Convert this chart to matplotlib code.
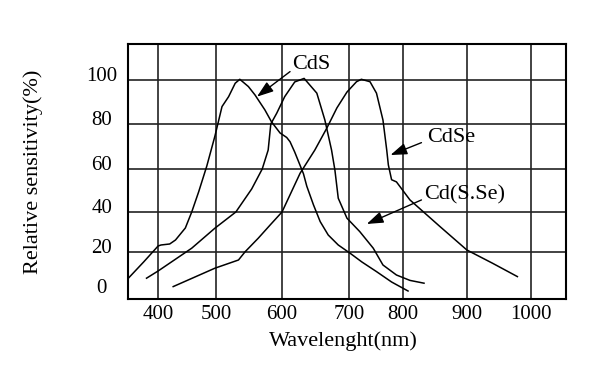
import numpy as np
import matplotlib
matplotlib.use('Agg')
import matplotlib.pyplot as plt
from matplotlib.transforms import ScaledTranslation

# wavelength (nm) / relative sensitivity (%)
cds_wl = [349, 375, 400, 405, 420, 430, 447, 458, 470, 484, 498, 509, 519, 529, 536,
          549, 559, 574, 584, 597, 607, 612, 619, 632, 637, 647, 657, 669, 684,
          702, 724, 751, 779, 808]
cds_val = [7, 15, 23, 23.5, 24, 26, 32, 40, 49.4, 61.3, 74.6, 87.9, 92.4, 98.5, 100.3,
           97, 93.2, 86.4, 81, 76, 74, 72.1, 67.5, 57.8, 52, 43.3, 35.2, 28.5, 23.5,
           19.4, 15, 10.2, 5, 0.5]

cdsse_wl = [380, 400, 458, 498, 530, 554, 570, 579, 583, 592, 604, 619, 633,
            652, 664, 674, 679, 684, 697, 720, 745, 763, 788, 811, 833]
cdsse_val = [6.9, 10.5, 21.9, 31.9, 40, 50.7, 60, 68.4, 80, 84.9, 92.4, 99.1, 100.7,
             94, 81.8, 68.4, 59.5, 46.4, 36.9, 30.2, 21.9, 13.5, 8.5, 5.8, 4.4]

cdse_wl = [426, 498, 534, 544, 564, 582, 600, 627, 649, 667, 682, 697, 714, 723,
           739, 751, 763, 770, 773, 779, 788, 811, 858, 900, 940, 979]
cdse_val = [2.7, 11.9, 16, 20.1, 26.9, 33.5, 40, 58, 68.4, 78.2, 87.3, 94.5, 99.2, 100.3,
            99.2, 94, 81.8, 68.4, 61.8, 55, 54, 45.6, 32.7, 21, 14.4, 7.7]

x_ticks = [400, 500, 600, 700, 800, 900, 1000]
y_ticks = [0, 20, 40, 60, 80, 100]

# the printed grid is hand drawn and not evenly spaced
x_break = [300, 400, 500, 600, 700, 800, 900, 1000, 1100]
x_break_pos = [-58, 0, 58, 124, 191, 245, 309, 373, 437]
y_break = [-20, 0, 20, 40, 60, 80, 100, 120]
y_break_pos = [-40, 0, 40, 80, 123, 168, 212, 256]


def xfwd(x):
    return np.interp(x, x_break, x_break_pos)


def xinv(p):
    return np.interp(p, x_break_pos, x_break)


def yfwd(y):
    return np.interp(y, y_break, y_break_pos)


def yinv(p):
    return np.interp(p, y_break_pos, y_break)


plt.rcParams['font.family'] = ['Liberation Serif', 'DejaVu Serif']

fig = plt.figure(figsize=(6.15, 3.68), dpi=100)
ax = fig.add_axes([0.2081, 0.1875, 0.7122, 0.6921])
ax.set_xscale('function', functions=(xfwd, xinv))
ax.set_yscale('function', functions=(yfwd, yinv))

for wl, val in [(cds_wl, cds_val), (cdsse_wl, cdsse_val), (cdse_wl, cdse_val)]:
    ax.plot(wl, val, color='black', lw=1.1, solid_joinstyle='round')

ax.set_xlim(348, 1055)
ax.set_ylim(-3.5, 116.2)
ax.set_xticks(x_ticks)
ax.set_yticks(y_ticks)
ax.grid(True, color='#222222', lw=1.2)
ax.get_ygridlines()[0].set_visible(False)
ax.tick_params(length=0, labelsize=15)
ax.tick_params(axis='x', pad=4)
ax.tick_params(axis='y', pad=19)
shift = ScaledTranslation(0, 0.06, fig.dpi_scale_trans)
for lab in ax.get_yticklabels():
    lab.set_ha('center')
    lab.set_transform(lab.get_transform() + shift)
for sp in ax.spines.values():
    sp.set_linewidth(1.5)

ax.set_xlabel('Wavelenght(nm)', fontsize=16)
ax.set_ylabel('Relative sensitivity(%)', fontsize=16)
ax.xaxis.set_label_coords(0.493, -0.125)
ax.yaxis.set_label_coords(-0.194, 0.5)

arrow = dict(arrowstyle='-|>,head_length=1.0,head_width=0.35', color='black',
             lw=1.0, mutation_scale=10, shrinkA=0, shrinkB=0)
ax.annotate('', xy=(562, 92.4), xytext=(612, 103.8), arrowprops=arrow)
ax.text(643, 107, 'CdS', fontsize=16, ha='center', va='center')
ax.annotate('', xy=(777, 66.2), xytext=(829, 71.7), arrowprops=arrow)
ax.text(876, 74.2, 'CdSe', fontsize=16, ha='center', va='center')
ax.annotate('', xy=(733, 34), xytext=(829, 45.6), arrowprops=arrow)
ax.text(897, 47.9, 'Cd(S.Se)', fontsize=16, ha='center', va='center')

plt.savefig('out.png', dpi=100)
